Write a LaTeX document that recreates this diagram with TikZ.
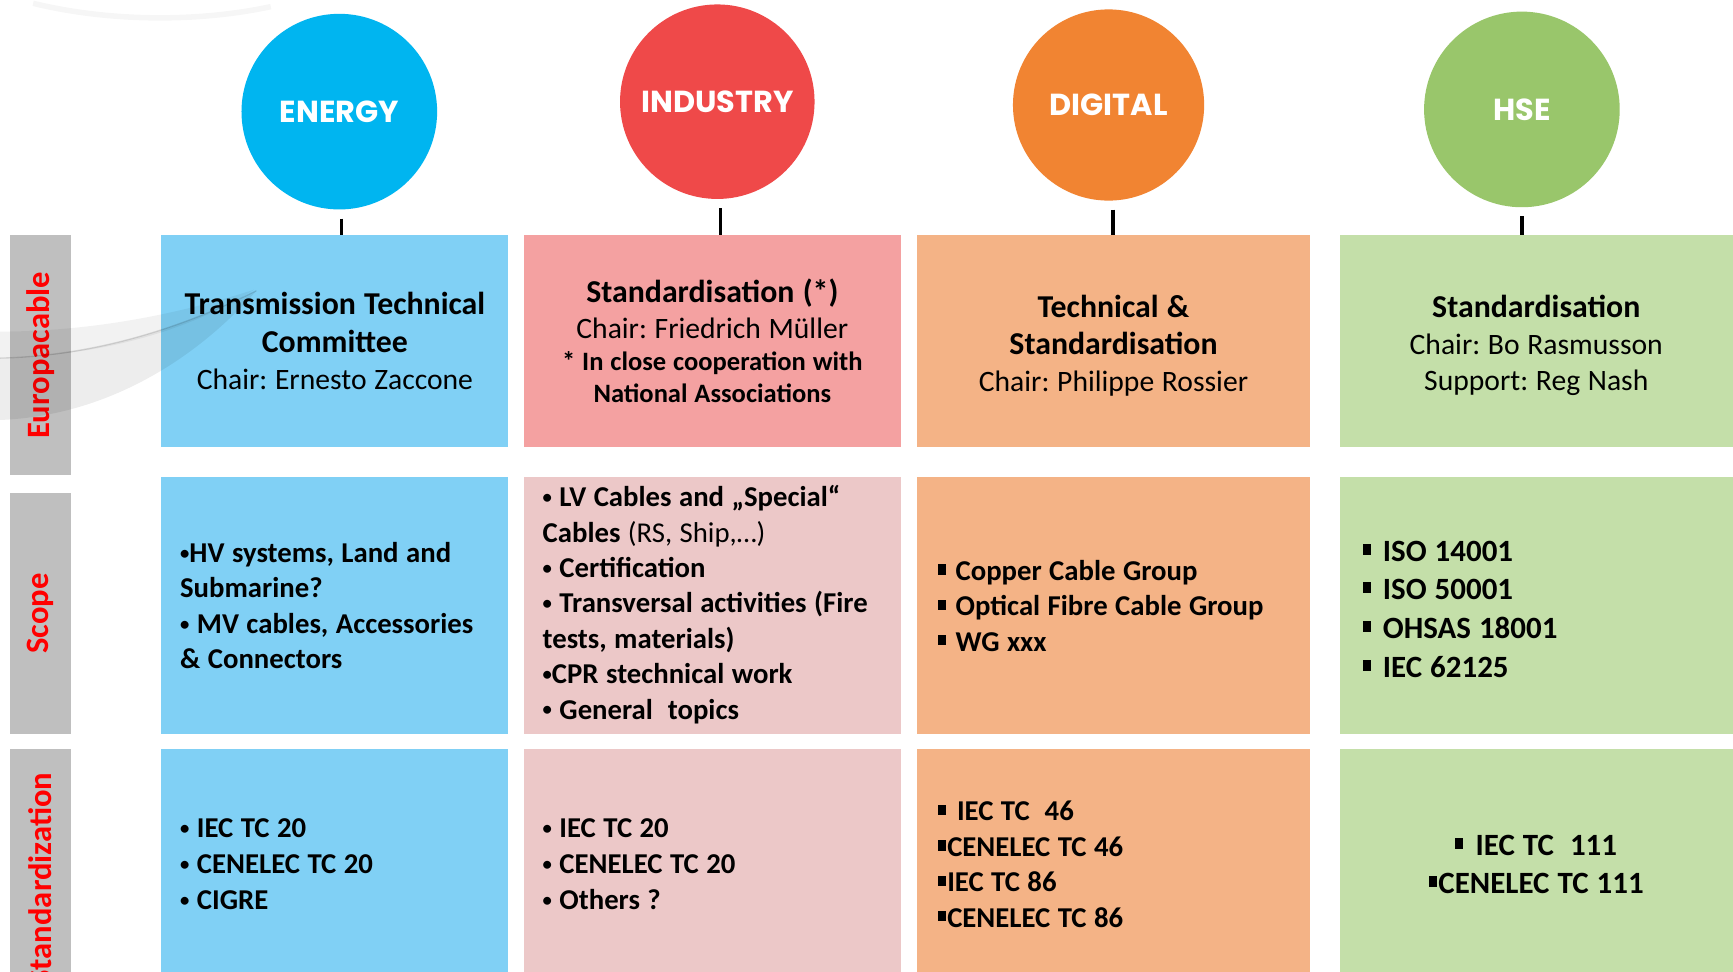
\documentclass[tikz,border=0pt]{standalone}
\usepackage{fontspec}
\usepackage{graphicx}
\setmainfont{Carlito}[WordSpace=1.15]
\newfontfamily\circfont{Poppins}
\usetikzlibrary{calc}
\definecolor{enC}{RGB}{0,181,240}
\definecolor{inC}{RGB}{239,73,73}
\definecolor{diC}{RGB}{241,132,50}
\definecolor{hsC}{RGB}{153,198,107}
\definecolor{enL}{RGB}{128,208,245}
\definecolor{inL}{RGB}{244,161,161}
\definecolor{inLL}{RGB}{236,200,200}
\definecolor{diL}{RGB}{244,179,134}
\definecolor{hsL}{RGB}{196,223,169}
\definecolor{barG}{RGB}{191,191,191}
\definecolor{lblR}{RGB}{255,0,0}
\newcommand{\sqb}{\raisebox{0.2em}{\rule{0.25em}{0.36em}}}
\newcommand{\bul}{\raisebox{0.11em}{\scalebox{0.65}{•}}}
\newcommand{\hdTitle}[1]{{\fontsize{28.8}{34}\selectfont\bfseries #1\par}}
\newcommand{\hdChair}[1]{{\fontsize{26.8}{33}\selectfont #1\par}}
\newcommand{\hdNote}[1]{{\fontsize{24}{29}\selectfont\bfseries #1\par}}
\tikzset{
  circ/.style={circle, minimum size=#1, inner sep=0pt, text=white,
    font=\circfont\bfseries\fontsize{27.5}{30}\selectfont},
  cell/.style={rectangle, inner sep=0pt, draw=none},
  sidebar/.style={rectangle, inner sep=0pt, fill=barG, minimum width=55pt},
  sidelbl/.style={rotate=90, inner sep=0pt, text=lblR,
    font=\bfseries\fontsize{29.5}{31}\selectfont},
  conn/.style={draw=black, line width=3pt, shorten <=8pt},
  head/.style={align=flush center, text width=#1, inner sep=0pt},
  list/.style={anchor=west, align=left, inner sep=0pt,
    font=\bfseries\fontsize{26}{32}\selectfont},
}
\begin{document}
\frenchspacing
\begin{tikzpicture}[x=1pt,y=1pt]
\useasboundingbox (0,0) rectangle (1568,-879);
\clip (0,0) rectangle (1568,-879);
\fill[white] (0,0) rectangle (1568,-879);

% faint background decoration
\draw[black, opacity=0.035, line width=5pt] (30,-3) .. controls (100,-20) and (180,-20) .. (245,-6);

% circles
\node[circ=177pt, fill=enC] (energy) at (307,-101) {ENERGY};
\node[circ=176pt, fill=inC] (industry) at (649,-92) {INDUSTRY};
\node[circ=173pt, fill=diC] (digital) at (1003,-95) {DIGITAL};
\node[circ=177pt, fill=hsC] (hse) at (1377,-99) {HSE};

% side bars
\node[sidebar, minimum height=217pt] (b1) at (36.5,-321.5) {};
\node[sidebar, minimum height=218pt] (b2) at (36.5,-555) {};
\node[sidebar, minimum height=235pt] (b3) at (36.5,-795.5) {};
\node[sidelbl] (l1) at (b1.center) {Europacable};
\node[sidelbl] (l2) at (b2.center) {Scope};
\node[sidelbl] (l3) at (b3.center) {Standardization};

% row 1
\node[cell, fill=enL, minimum width=314pt, minimum height=191pt] (e1) at (303,-308.5) {};
\node[cell, fill=inL, minimum width=341pt, minimum height=191pt] (i1) at (644.5,-308.5) {};
\node[cell, fill=diL, minimum width=355pt, minimum height=191pt] (d1) at (1007.5,-308.5) {};
\node[cell, fill=hsL, minimum width=356pt, minimum height=191pt] (h1) at (1390,-308.5) {};
% row 2
\node[cell, fill=enL, minimum width=314pt, minimum height=232pt] (e2) at (303,-548) {};
\node[cell, fill=inLL, minimum width=341pt, minimum height=232pt] (i2) at (644.5,-548) {};
\node[cell, fill=diL, minimum width=355pt, minimum height=232pt] (d2) at (1007.5,-548) {};
\node[cell, fill=hsL, minimum width=356pt, minimum height=232pt] (h2) at (1390,-548) {};
% row 3
\node[cell, fill=enL, minimum width=314pt, minimum height=208pt] (e3) at (303,-782) {};
\node[cell, fill=inLL, minimum width=341pt, minimum height=208pt] (i3) at (644.5,-782) {};
\node[cell, fill=diL, minimum width=355pt, minimum height=208pt] (d3) at (1007.5,-782) {};
\node[cell, fill=hsL, minimum width=356pt, minimum height=208pt] (h3) at (1390,-782) {};

% swoosh decoration
\fill[black, opacity=0.05] (0,-300) .. controls (80,-300) and (160,-285) .. (230,-262)
  .. controls (170,-300) and (90,-322) .. (0,-324) -- cycle;
\fill[black, opacity=0.07] (0,-324) .. controls (90,-322) and (170,-294) .. (232,-263)
  .. controls (180,-322) and (100,-376) .. (0,-380) -- cycle;
\draw[black, opacity=0.12, line width=1.2pt] (0,-324) .. controls (90,-322) and (170,-294) .. (232,-263);

% connectors
\draw[conn] ($(energy.south)+(2,0)$) -- ($(energy.south |- e1.north)+(2,0)$);
\draw[conn] ($(industry.south)+(3,0)$) -- ($(industry.south |- i1.north)+(3,0)$);
\draw[conn] ($(digital.south)+(4,0)$) -- ($(digital.south |- d1.north)+(4,0)$);
\draw[conn] (hse.south) -- (hse.south |- h1.north);

% row 1 texts
\node[head=310pt] (e1t) at (e1.center) {\hdTitle{Transmission Technical\\Committee}\hdChair{Chair: Ernesto Zaccone}};
\node[head=335pt] (i1t) at (i1.center) {\hdTitle{Standardisation (*)}\hdChair{Chair: Friedrich Müller}\hdNote{* In close cooperation with\\National Associations}};
\node[head=345pt] (d1t) at ($(d1.center)+(0,-4)$) {\hdTitle{Technical \&\\Standardisation}\hdChair{Chair: Philippe Rossier}};
\node[head=345pt] (h1t) at ($(h1.center)+(0,-4)$) {\hdTitle{Standardisation}\hdChair{Chair: Bo Rasmusson\\Support: Reg Nash}};

% row 2 texts
\node[list] (e2t) at ($(e2.west)+(17,0)$) {\bul HV systems, Land and\\Submarine?\\\bul\ MV cables, Accessories\\\& Connectors};
\node[list] (i2t) at ($(i2.west)+(17,1)$) {\bul\ LV Cables and „Special“\\Cables {\mdseries (RS, Ship,…)}\\\bul\ Certification\\\bul\ Transversal activities (Fire\\tests, materials)\\\bul CPR stechnical work\\\bul\ General~ topics};
\node[list] (d2t) at ($(d2.west)+(19,0)$) {\sqb\hspace{0.35em}Copper Cable Group\\\sqb\hspace{0.35em}Optical Fibre Cable Group\\\sqb\hspace{0.35em}WG xxx};
\node[list, font=\bfseries\fontsize{28}{35}\selectfont] (h2t) at ($(h2.west)+(21,-3)$) {\sqb\hspace{0.4em}ISO 14001\\\sqb\hspace{0.4em}ISO 50001\\\sqb\hspace{0.4em}OHSAS 18001\\\sqb\hspace{0.4em}IEC 62125};

% row 3 texts
\node[list, font=\bfseries\fontsize{26}{32.5}\selectfont] (e3t) at ($(e3.west)+(17,0)$) {\bul\ IEC TC 20\\\bul\ CENELEC TC 20\\\bul\ CIGRE};
\node[list, font=\bfseries\fontsize{26}{32.5}\selectfont] (i3t) at ($(i3.west)+(17,0)$) {\bul\ IEC TC 20\\\bul\ CENELEC TC 20\\\bul\ Others ?};
\node[list, font=\bfseries\fontsize{26}{32}\selectfont] (d3t) at ($(d3.west)+(19,0)$) {\sqb\hspace{0.4em}IEC TC~\ 46\\\sqb\hspace{0.06em}CENELEC TC 46\\\sqb\hspace{0.06em}IEC TC 86\\\sqb\hspace{0.06em}CENELEC TC 86};
\node[align=center, inner sep=0pt, font=\bfseries\fontsize{28}{35}\selectfont] (h3t) at (h3.center) {\sqb\hspace{0.4em}IEC TC~\ 111\\\sqb\hspace{0.06em}CENELEC TC 111};
\end{tikzpicture}
\end{document}
